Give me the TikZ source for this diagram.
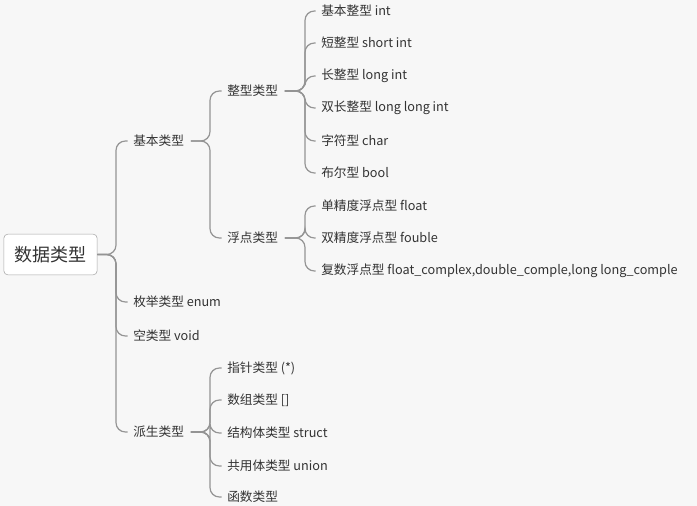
\documentclass[tikz,border=0pt]{standalone}
\usepackage{fontspec}
\setmainfont{Noto Sans CJK SC}
\begin{document}
\begin{tikzpicture}[x=0.75pt,y=-0.75pt,
  topic/.style={anchor=west,inner sep=0pt,text=black!80,font=\fontsize{9.5}{11}\selectfont},
  link/.style={draw=black!42,line width=0.9pt,rounded corners=7pt}]
\fill[black!3] (0,0) rectangle (697,506);
\useasboundingbox (0,0) rectangle (697,506);
\node[draw=black!35,fill=white,rounded corners=3pt,minimum width=70pt,minimum height=30.5pt,font=\fontsize{13.5}{15}\selectfont,text=black!80] (root) at (50.5,254.5) {数据类型};
\node[topic] (a) at (133,141) {基本类型};
\node[topic] (b) at (133,302) {枚举类型 enum};
\node[topic] (c) at (133,336) {空类型 void};
\node[topic] (d) at (133,432) {派生类型};
\node[topic] (a1) at (227,91) {整型类型};
\node[topic] (a2) at (227,238) {浮点类型};
\node[topic] (i1) at (321,11) {基本整型 int};
\node[topic] (i2) at (321,43) {短整型 short int};
\node[topic] (i3) at (321,76) {长整型 long int};
\node[topic] (i4) at (321,108) {双长整型 long long int};
\node[topic] (i5) at (321,141) {字符型 char};
\node[topic] (i6) at (321,173) {布尔型 bool};
\node[topic] (f1) at (321,206) {单精度浮点型 float};
\node[topic] (f2) at (321,238) {双精度浮点型 fouble};
\node[topic] (f3) at (321,271) {复数浮点型 float\_complex,double\_comple,long long\_comple};
\node[topic] (d1) at (227,368) {指针类型 (*)};
\node[topic] (d2) at (227,400) {数组类型 []};
\node[topic] (d3) at (227,433) {结构体类型 struct};
\node[topic] (d4) at (227,466) {共用体类型 union};
\node[topic] (d5) at (227,497) {函数类型};
\newcommand\conn[4]{\draw[link] ([xshift=#4]#1.east) -- (#3,0 |- #1.east) |- ([xshift=-4pt]#2.west);}
\foreach \c in {a,b,c,d} {\conn{root}{\c}{116}{0pt}}
\foreach \c in {a1,a2} {\conn{a}{\c}{210}{5pt}}
\foreach \c in {d1,d2,d3,d4,d5} {\conn{d}{\c}{210}{5pt}}
\foreach \c in {i1,i2,i3,i4,i5,i6} {\conn{a1}{\c}{305}{5pt}}
\foreach \c in {f1,f2,f3} {\conn{a2}{\c}{305}{5pt}}
\end{tikzpicture}
\end{document}
